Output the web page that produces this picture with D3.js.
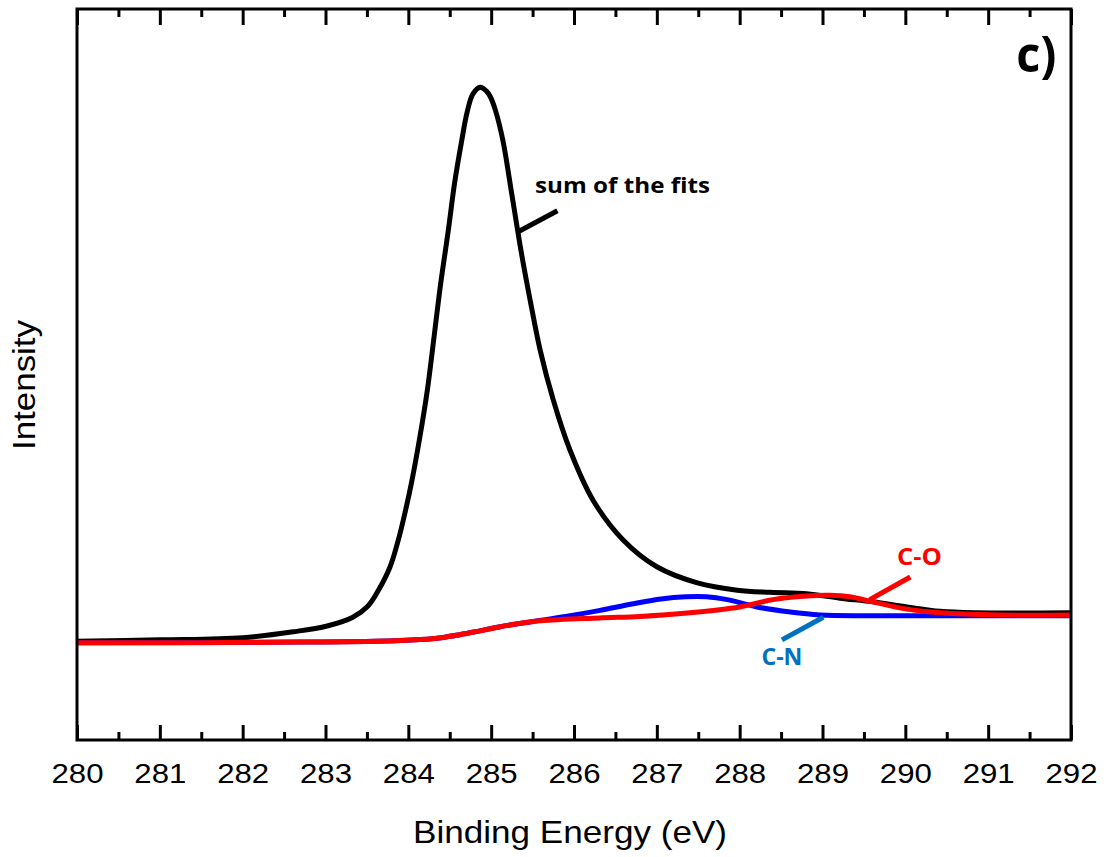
<!DOCTYPE html>
<html>
<head>
<meta charset="utf-8">
<script src="https://cdn.jsdelivr.net/npm/d3@7"></script>
<style>
  html, body { margin: 0; padding: 0; background: #fff; }
  svg { display: block; }
</style>
</head>
<body>
<svg id="chart" width="1107" height="857"></svg>
<script>
// ---- Data (Binding energy in eV, intensity in arbitrary units) ----
const sumE = [280.00, 281.00, 282.00, 282.61, 283.02, 283.33, 283.51, 283.63, 283.78, 283.88, 283.96, 284.04, 284.14, 284.23, 284.31, 284.39, 284.48, 284.56, 284.64, 284.71, 284.78, 284.87, 284.94, 284.99, 285.05, 285.14, 285.25, 285.37, 285.47, 285.59, 285.75, 285.95, 286.23, 286.59, 287.00, 287.49, 287.97, 288.37, 288.81, 289.21, 289.61, 290.02, 290.42, 290.84, 292.00];
const sumI = [135, 137, 140, 148, 156, 168, 183, 203, 237, 274, 311, 353, 415, 479, 551, 624, 695, 763, 817, 859, 884, 893, 888, 880, 862, 821, 746, 663, 602, 534, 465, 397, 328, 274, 237, 215, 205, 202, 200, 194, 189, 182, 176, 174, 174];

const coE = [280.00, 281.48, 282.69, 283.60, 284.15, 284.40, 284.62, 284.85, 285.11, 285.59, 286.31, 286.80, 287.40, 288.00, 288.40, 288.81, 289.09, 289.33, 289.61, 290.02, 290.42, 291.14, 292.00];
const coI = [133, 133, 134, 135, 137.5, 140, 144, 149, 155, 163, 167, 169, 174, 182, 192, 197, 198, 196, 189, 179, 174, 171, 171];

const cnE = [280.00, 282.69, 283.60, 284.15, 284.40, 284.62, 284.85, 285.11, 285.50, 285.90, 286.30, 286.70, 287.05, 287.35, 287.60, 287.85, 288.21, 288.61, 288.97, 289.57, 292.00];
const cnI = [133, 134, 135, 137.5, 140, 144, 149, 155, 162, 169, 177, 186, 193, 196, 196, 192, 182, 175, 171, 170, 170];

const xTicks = [280, 281, 282, 283, 284, 285, 286, 287, 288, 289, 290, 291, 292];
const xMinorTicks = [280.5, 281.5, 282.5, 283.5, 284.5, 285.5, 286.5, 287.5, 288.5, 289.5, 290.5, 291.5];

// annotations: label, text anchor point, leader line endpoints (data units)
const annotations = [
  { text: "sum of the fits", color: "#000000", tx: 285.53, ty: 748, anchor: "start", width: 175, size: 22, x1: 285.32, y1: 695, x2: 285.80, y2: 724 },
  { text: "C-N", color: "#0070C0", tx: 288.51, ty: 103, anchor: "middle", width: 41, size: 23, x1: 288.51, y1: 137, x2: 289.01, y2: 168 },
  { text: "C-O", color: "#FF0000", tx: 290.17, ty: 239, anchor: "middle", width: 45, size: 23, x1: 289.57, y1: 192, x2: 290.06, y2: 223 }
];

// ---- Layout ----
const svg = d3.select("#chart");
const L = 77, R = 1071, T = 9, B = 740;

const x = d3.scaleLinear().domain([280, 292]).range([L, R]);
const y = d3.scaleLinear().domain([0, 1000]).range([B, T]);

const line = d3.line()
  .x(d => x(d[0]))
  .y(d => y(d[1]))
  .curve(d3.curveCatmullRom.alpha(0.5));

const zip = (a, b) => a.map((v, i) => [v, b[i]]);

// curves: black, blue, red (red on top)
svg.append("path").datum(zip(sumE, sumI))
  .attr("d", line).attr("fill", "none").attr("stroke", "#000").attr("stroke-width", 5).attr("stroke-linejoin", "round");
svg.append("path").datum(zip(cnE, cnI))
  .attr("d", line).attr("fill", "none").attr("stroke", "#0000FF").attr("stroke-width", 5).attr("stroke-linejoin", "round");
svg.append("path").datum(zip(coE, coI))
  .attr("d", line).attr("fill", "none").attr("stroke", "#FF0000").attr("stroke-width", 5).attr("stroke-linejoin", "round");

// ---- Axes ----
const gBottom = svg.append("g").attr("transform", `translate(0,${B})`)
  .call(d3.axisBottom(x).tickValues(xTicks).tickSize(-15).tickPadding(26).tickFormat(d3.format("d")));
gBottom.select(".domain").remove();
gBottom.selectAll(".tick line").attr("stroke", "#000").attr("stroke-width", 3);
gBottom.selectAll(".tick text")
  .attr("font-family", "'Liberation Sans', Arial, sans-serif")
  .attr("font-size", 28).attr("fill", "#000")
  .attr("dy", 0).attr("y", 43)
  .attr("textLength", 52).attr("lengthAdjust", "spacingAndGlyphs");

const gBottomMinor = svg.append("g").attr("transform", `translate(0,${B})`)
  .call(d3.axisBottom(x).tickValues(xMinorTicks).tickSize(-8).tickFormat(""));
gBottomMinor.select(".domain").remove();
gBottomMinor.selectAll(".tick line").attr("stroke", "#000").attr("stroke-width", 3);

const gTop = svg.append("g").attr("transform", `translate(0,${T})`)
  .call(d3.axisTop(x).tickValues(xTicks).tickSize(-16).tickFormat(""));
gTop.select(".domain").remove();
gTop.selectAll(".tick line").attr("stroke", "#000").attr("stroke-width", 3);

const gTopMinor = svg.append("g").attr("transform", `translate(0,${T})`)
  .call(d3.axisTop(x).tickValues(xMinorTicks).tickSize(-8).tickFormat(""));
gTopMinor.select(".domain").remove();
gTopMinor.selectAll(".tick line").attr("stroke", "#000").attr("stroke-width", 3);

// frame
svg.append("rect")
  .attr("x", L).attr("y", T).attr("width", R - L).attr("height", B - T)
  .attr("fill", "none").attr("stroke", "#000").attr("stroke-width", 3);

// axis titles
svg.append("text")
  .attr("x", (L + R) / 2 - 4).attr("y", 843)
  .attr("text-anchor", "middle")
  .attr("font-family", "'Liberation Sans', Arial, sans-serif")
  .attr("font-size", 32).attr("fill", "#000")
  .attr("textLength", 314).attr("lengthAdjust", "spacingAndGlyphs")
  .text("Binding Energy (eV)");

svg.append("text")
  .attr("transform", `translate(35,385) rotate(-90)`)
  .attr("text-anchor", "middle")
  .attr("font-family", "'Liberation Sans', Arial, sans-serif")
  .attr("font-size", 32).attr("fill", "#000")
  .attr("textLength", 130).attr("lengthAdjust", "spacingAndGlyphs")
  .text("Intensity");

// panel label
svg.append("text")
  .attr("x", x(291.34)).attr("y", y(914))
  .attr("font-family", "'Open Sans', sans-serif").attr("font-weight", "bold")
  .attr("font-size", 50).attr("fill", "#000")
  .attr("textLength", 40).attr("lengthAdjust", "spacingAndGlyphs")
  .text("c)");

// annotations
annotations.forEach(a => {
  svg.append("line")
    .attr("x1", x(a.x1)).attr("y1", y(a.y1))
    .attr("x2", x(a.x2)).attr("y2", y(a.y2))
    .attr("stroke", a.color).attr("stroke-width", 5);
  svg.append("text")
    .attr("x", x(a.tx)).attr("y", y(a.ty))
    .attr("text-anchor", a.anchor)
    .attr("font-family", "'Open Sans', sans-serif").attr("font-weight", "bold")
    .attr("font-size", a.size).attr("fill", a.color)
    .attr("textLength", a.width).attr("lengthAdjust", "spacingAndGlyphs")
    .text(a.text);
});
</script>
</body>
</html>
